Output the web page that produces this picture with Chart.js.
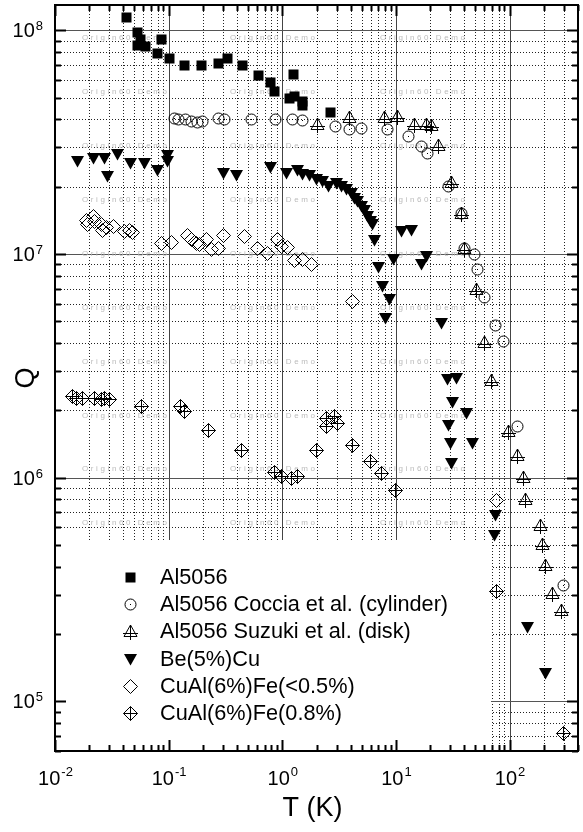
<!DOCTYPE html>
<html>
<head>
<meta charset="utf-8">
<title>Q vs T</title>
<script src="https://cdn.jsdelivr.net/npm/chart.js@4.4.1/dist/chart.umd.min.js"></script>
<style>
  html, body { margin: 0; padding: 0; background: #fff; }
</style>
</head>
<body>
<canvas id="qplot" width="583" height="832"></canvas>
<script>
// values (T in K, Q)
const al5056T = [0.0425, 0.0531, 0.0568, 0.0537, 0.0624, 0.0797, 0.0873, 0.102, 0.138, 0.194, 0.272, 0.328, 0.45, 0.622, 0.783, 0.855, 1.16, 1.28, 1.26, 1.52, 1.52, 2.64];
const al5056Q = [1.14e8, 9.8e7, 9.15e7, 8.6e7, 8.5e7, 7.87e7, 9.15e7, 7.52e7, 7.0e7, 6.97e7, 7.15e7, 7.52e7, 6.95e7, 6.27e7, 5.85e7, 5.33e7, 4.98e7, 5.07e7, 6.33e7, 4.81e7, 4.6e7, 4.31e7];

const cocciaT = [0.1115, 0.121, 0.14, 0.158, 0.181, 0.2, 0.272, 0.311, 0.533, 0.873, 1.22, 1.5, 2.96, 3.93, 4.95, 8.38, 12.9, 16.7, 18.8, 29, 37.5, 40.4, 49, 52, 60, 75, 89, 118, 298];
const cocciaQ = [4.06e7, 4.01e7, 4.01e7, 3.92e7, 3.88e7, 3.92e7, 4.06e7, 4.01e7, 4.01e7, 4.01e7, 4.01e7, 3.96e7, 3.72e7, 3.6e7, 3.66e7, 3.6e7, 3.34e7, 3.03e7, 2.81e7, 2.0e7, 1.52e7, 1.06e7, 1.0e7, 8.5e6, 6.4e6, 4.8e6, 4.06e6, 1.7e6, 3.3e5];

const suzukiT = [2.06, 3.91, 7.86, 10.4, 14.7, 18.6, 20.7, 23.8, 30.6, 37.5, 40.4, 50.8, 60.1, 68.9, 98.4, 118, 132, 138, 187, 196, 206, 237, 288];
const suzukiQ = [3.79e7, 4.08e7, 4.08e7, 4.12e7, 3.81e7, 3.81e7, 3.75e7, 3.05e7, 2.09e7, 1.52e7, 1.06e7, 6.97e6, 4.02e6, 2.72e6, 1.61e6, 1.26e6, 1.0e6, 8.0e5, 6.1e5, 5.05e5, 4.04e5, 3.04e5, 2.54e5];

const beCuT = [0.0157, 0.0216, 0.0274, 0.0292, 0.0354, 0.0463, 0.0607, 0.0797, 0.0987, 0.0987, 0.301, 0.394, 0.783, 1.08, 1.37, 1.52, 1.74, 1.99, 2.28, 2.57, 2.98, 3.3, 3.66, 4.05, 4.33, 4.62, 4.95, 5.3, 5.66, 5.98, 6.19, 6.49, 7.03, 9.53, 11.1, 13.6, 16.7, 18.5, 7.67, 8.79, 8.1, 25.0, 28.6, 33.9, 31.3, 41.5, 29.0, 30.2, 47.5, 30.6, 75.2, 74.1, 145, 207];
const beCuQ = [2.59e7, 2.69e7, 2.67e7, 2.22e7, 2.78e7, 2.53e7, 2.55e7, 2.36e7, 2.75e7, 2.59e7, 2.3e7, 2.24e7, 2.45e7, 2.3e7, 2.36e7, 2.26e7, 2.24e7, 2.16e7, 2.11e7, 2.0e7, 2.06e7, 2.0e7, 1.94e7, 1.87e7, 1.78e7, 1.72e7, 1.64e7, 1.57e7, 1.48e7, 1.4e7, 1.35e7, 1.15e7, 8.68e6, 9.42e6, 1.26e7, 1.28e7, 8.95e6, 9.75e6, 7.16e6, 6.24e6, 5.16e6, 4.87e6, 2.74e6, 2.79e6, 2.17e6, 1.94e6, 1.72e6, 1.43e6, 1.43e6, 1.16e6, 6.81e5, 5.54e5, 2.15e5, 1.33e5];

const cuAlLowT = [0.0189, 0.0216, 0.0195, 0.0223, 0.0256, 0.0264, 0.0283, 0.0324, 0.041, 0.0454, 0.0485, 0.0863, 0.106, 0.148, 0.158, 0.175, 0.187, 0.215, 0.238, 0.272, 0.306, 0.466, 0.61, 0.746, 0.914, 0.979, 1.12, 1.28, 1.5, 1.8, 4.18, 77.1];
const cuAlLowQ = [1.42e7, 1.48e7, 1.36e7, 1.4e7, 1.35e7, 1.28e7, 1.31e7, 1.33e7, 1.26e7, 1.28e7, 1.25e7, 1.11e7, 1.13e7, 1.21e7, 1.16e7, 1.12e7, 1.1e7, 1.16e7, 1.05e7, 1.06e7, 1.21e7, 1.2e7, 1.06e7, 1.01e7, 1.16e7, 1.08e7, 1.07e7, 9.33e6, 9.42e6, 8.95e6, 6.12e6, 7.89e5];

const cuAlHighT = [0.0144, 0.0154, 0.0176, 0.0223, 0.0256, 0.0274, 0.0303, 0.0575, 0.128, 0.138, 0.225, 0.436, 0.855, 0.979, 1.2, 1.37, 1.99, 2.44, 2.44, 2.88, 3.08, 4.18, 5.98, 7.43, 9.91, 77.1, 300];
const cuAlHighQ = [2.3e6, 2.27e6, 2.27e6, 2.27e6, 2.24e6, 2.27e6, 2.23e6, 2.09e6, 2.09e6, 1.97e6, 1.63e6, 1.33e6, 1.06e6, 1.01e6, 9.94e5, 1.01e6, 1.32e6, 1.84e6, 1.69e6, 1.87e6, 1.75e6, 1.4e6, 1.18e6, 1.04e6, 8.81e5, 3.09e5, 7.18e4];

const seriesNames = ['Al5056', 'Al5056 Coccia et al. (cylinder)', 'Al5056 Suzuki et al. (disk)', 'Be(5%)Cu', 'CuAl(6%)Fe(<0.5%)', 'CuAl(6%)Fe(0.8%)'];
const xDecades = [-2, -1, 0, 1, 2];
const yDecades = [5, 6, 7, 8];
const xTitle = 'T (K)';
const yTitle = 'Q';
const watermark = 'Origin60 Demo';

const FONT = '"Liberation Sans", Arial, sans-serif';

function pairs(xs, ys) {
    return xs.map((v, i) => ({ x: v, y: ys[i] }));
}

// small canvases used as point styles (odd size so 1px strokes stay sharp)
function makeMarker(size, draw) {
    const c = document.createElement('canvas');
    c.width = size; c.height = size;
    const g = c.getContext('2d');
    g.translate(size / 2, size / 2);
    g.strokeStyle = '#000'; g.fillStyle = '#000'; g.lineWidth = 1;
    draw(g);
    return c;
}

const mSquare = makeMarker(13, g => g.fillRect(-5, -5, 10, 10));
const mCircle = makeMarker(15, g => {
    g.beginPath(); g.arc(0, 0, 5.5, 0, Math.PI * 2); g.stroke();
    g.fillRect(-0.5, -0.5, 1, 1);
});
const mCrossTri = makeMarker(19, g => {
    g.beginPath(); g.moveTo(0, -6.5); g.lineTo(6.5, 5); g.lineTo(-6.5, 5); g.closePath(); g.stroke();
    g.beginPath(); g.moveTo(0, -6.5); g.lineTo(0, 8.5); g.moveTo(-7.5, 2); g.lineTo(7.5, 2); g.stroke();
});
const mDownTri = makeMarker(17, g => {
    g.beginPath(); g.moveTo(-6.5, -5.5); g.lineTo(6.5, -5.5); g.lineTo(0, 6); g.closePath(); g.fill();
});
const mDiamond = makeMarker(17, g => {
    g.beginPath(); g.moveTo(0, -7); g.lineTo(7, 0); g.lineTo(0, 7); g.lineTo(-7, 0); g.closePath(); g.stroke();
});
const mCrossDiamond = makeMarker(17, g => {
    g.beginPath(); g.moveTo(0, -7); g.lineTo(7, 0); g.lineTo(0, 7); g.lineTo(-7, 0); g.closePath(); g.stroke();
    g.beginPath(); g.moveTo(0, -7); g.lineTo(0, 7); g.moveTo(-7, 0); g.lineTo(7, 0); g.stroke();
});
const markers = [mSquare, mCircle, mCrossTri, mDownTri, mDiamond, mCrossDiamond];

const seriesData = [
    pairs(al5056T, al5056Q),
    pairs(cocciaT, cocciaQ),
    pairs(suzukiT, suzukiQ),
    pairs(beCuT, beCuQ),
    pairs(cuAlLowT, cuAlLowQ),
    pairs(cuAlHighT, cuAlHighQ)
];

function logGrid(min, max) {
    const out = [];
    for (let e = Math.floor(Math.log10(min)); e <= Math.ceil(Math.log10(max)); e++) {
        for (let k = 1; k <= 9; k++) {
            const v = k * Math.pow(10, e);
            if (v >= min * 0.999 && v <= max * 1.001) out.push({ v: v, major: k === 1 });
        }
    }
    return out;
}

function legendBox(a) {
    return { left: a.left, top: a.bottom - 211, right: a.left + 435, bottom: a.bottom };
}

const originLook = {
    id: 'originLook',
    beforeDraw(chart) {
        const ctx = chart.ctx;
        ctx.save();
        ctx.fillStyle = '#fff';
        ctx.fillRect(0, 0, chart.width, chart.height);
        ctx.restore();
    },
    beforeDatasetsDraw(chart) {
        const { ctx, chartArea: a, scales: { x, y } } = chart;
        ctx.save();
        ctx.lineWidth = 1;
        // grid: dotted minor, solid decades
        for (const g of logGrid(x.min, x.max)) {
            const px = Math.round(x.getPixelForValue(g.v)) + 0.5;
            ctx.setLineDash(g.major ? [] : [1, 2]);
            ctx.strokeStyle = g.major ? '#444' : '#222';
            ctx.beginPath(); ctx.moveTo(px, a.top); ctx.lineTo(px, a.bottom); ctx.stroke();
        }
        for (const g of logGrid(y.min, y.max)) {
            const py = Math.round(y.getPixelForValue(g.v)) + 0.5;
            ctx.setLineDash(g.major ? [] : [1, 2]);
            ctx.strokeStyle = g.major ? '#555' : '#222';
            ctx.beginPath(); ctx.moveTo(a.left, py); ctx.lineTo(a.right, py); ctx.stroke();
        }
        ctx.setLineDash([]);

        // demo watermark
        ctx.fillStyle = '#bcbcbc';
        ctx.font = '8px ' + FONT;
        ctx.letterSpacing = '2.6px';
        ctx.textBaseline = 'middle';
        for (let r = 0; r < 10; r++) {
            for (const cx of [27, 175, 325]) {
                ctx.fillText(watermark, a.left + cx, a.top + 33 + r * 53.9);
            }
        }
        ctx.letterSpacing = '0px';

        // legend background hides the grid
        const b = legendBox(a);
        ctx.fillStyle = '#fff';
        ctx.fillRect(b.left + 1, b.top, b.right - b.left, b.bottom - b.top - 1);
        ctx.restore();
        // keep marker bitmaps crisp at fractional positions
        ctx.imageSmoothingEnabled = false;
    },
    afterDatasetsDraw(chart) {
        chart.ctx.imageSmoothingEnabled = true;
    },
    afterDraw(chart) {
        const { ctx, chartArea: a, scales: { x, y } } = chart;
        ctx.save();

        // ticks pointing inward on all four sides
        ctx.strokeStyle = '#000';
        ctx.lineWidth = 2;
        for (const g of logGrid(x.min, x.max)) {
            const px = Math.round(x.getPixelForValue(g.v)) + 0.5;
            const len = g.major ? 11 : 6;
            ctx.beginPath();
            ctx.moveTo(px, a.bottom); ctx.lineTo(px, a.bottom - len);
            ctx.moveTo(px, a.top); ctx.lineTo(px, a.top + len);
            ctx.stroke();
        }
        for (const g of logGrid(y.min, y.max)) {
            const py = Math.round(y.getPixelForValue(g.v)) + 0.5;
            const len = g.major ? 11 : 6;
            ctx.beginPath();
            ctx.moveTo(a.left, py); ctx.lineTo(a.left + len, py);
            ctx.moveTo(a.right, py); ctx.lineTo(a.right - len, py);
            ctx.stroke();
        }
        // frame
        ctx.strokeRect(a.left, a.top, a.right - a.left, a.bottom - a.top);

        // tick labels as 10 with superscript exponent
        ctx.fillStyle = '#000';
        ctx.textBaseline = 'alphabetic';
        const baseFont = '20px ' + FONT, expFont = '13px ' + FONT;
        for (const e of xDecades) {
            const px = x.getPixelForValue(Math.pow(10, e));
            ctx.font = baseFont; const w1 = ctx.measureText('10').width;
            ctx.font = expFont; const w2 = ctx.measureText(String(e)).width;
            const left = px - (w1 + w2) / 2;
            ctx.font = baseFont; ctx.textAlign = 'left';
            ctx.fillText('10', left, a.bottom + 34);
            ctx.font = expFont;
            ctx.fillText(String(e), left + w1 + 1, a.bottom + 25);
        }
        for (const e of yDecades) {
            const py = y.getPixelForValue(Math.pow(10, e));
            ctx.font = expFont; const w2 = ctx.measureText(String(e)).width;
            ctx.font = baseFont; const w1 = ctx.measureText('10').width;
            const right = a.left - 12;
            ctx.textAlign = 'left';
            ctx.fillText('10', right - w2 - 1 - w1, py + 7);
            ctx.font = expFont;
            ctx.fillText(String(e), right - w2, py);
        }

        // axis titles
        ctx.font = '27px ' + FONT;
        ctx.textAlign = 'center';
        ctx.textBaseline = 'middle';
        ctx.fillText(xTitle, (a.left + a.right) / 2 - 4, a.bottom + 58);
        ctx.save();
        ctx.translate(27, (a.top + a.bottom) / 2);
        ctx.rotate(-Math.PI / 2);
        ctx.fillText(yTitle, 0, 0);
        ctx.restore();

        // legend entries
        const b = legendBox(a);
        ctx.font = '21.7px ' + FONT;
        ctx.textAlign = 'left';
        ctx.textBaseline = 'middle';
        ctx.imageSmoothingEnabled = false;
        seriesNames.forEach((name, i) => {
            const ry = Math.round(b.top + 37 + i * 27.2);
            const m = markers[i];
            ctx.drawImage(m, b.left + 75 - Math.floor(m.width / 2), ry - Math.floor(m.height / 2));
            ctx.fillText(name, b.left + 105, ry + 1);
        });
        ctx.restore();
    }
};

new Chart(document.getElementById('qplot'), {
    type: 'scatter',
    data: {
        datasets: seriesNames.map((name, i) => ({
            label: name,
            data: seriesData[i],
            pointStyle: markers[i],
            showLine: false
        }))
    },
    options: {
        responsive: false,
        animation: false,
        events: [],
        layout: { padding: { left: 55, right: 5, top: 5, bottom: 81 } },
        scales: {
            x: { type: 'logarithmic', min: 0.01, max: 400, display: false },
            y: { type: 'logarithmic', min: 6e4, max: 1.3e8, display: false }
        },
        plugins: { legend: { display: false }, tooltip: { enabled: false } }
    },
    plugins: [originLook]
});
</script>
</body>
</html>
